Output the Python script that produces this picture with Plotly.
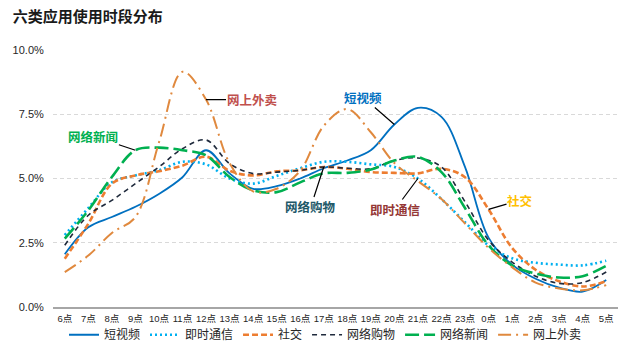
import plotly.graph_objects as go

hours = ["6点", "7点", "8点", "9点", "10点", "11点", "12点", "13点", "14点", "15点", "16点", "17点",
         "18点", "19点", "20点", "21点", "22点", "23点", "0点", "1点", "2点", "3点", "4点", "5点"]

short_video = [2.05, 3.1, 3.5, 3.9, 4.4, 5.05, 6.1, 5.2, 4.6, 4.7, 5.0, 5.4,
               5.7, 6.1, 7.1, 7.75, 7.4, 5.45, 2.7, 1.65, 1.1, 0.75, 0.6, 1.05]
instant_msg = [2.8, 3.85, 4.85, 5.12, 5.32, 5.65, 5.55, 5.0, 4.8, 5.1, 5.4, 5.65,
               5.65, 5.55, 5.45, 5.0, 4.2, 3.3, 2.4, 1.9, 1.72, 1.65, 1.62, 1.8]
social = [1.88, 3.24, 4.8, 5.12, 5.28, 5.5, 5.85, 5.3, 5.12, 5.28, 5.32, 5.45,
          5.38, 5.25, 5.22, 5.2, 5.38, 5.05, 3.8, 2.3, 1.45, 1.0, 0.8, 1.0]
shopping = [2.4, 3.57, 4.15, 4.8, 5.45, 6.16, 6.5, 5.58, 5.19, 5.25, 5.32, 5.45,
            5.4, 5.38, 5.7, 5.8, 5.45, 4.1, 2.6, 1.75, 1.2, 0.92, 0.95, 1.36]
news = [2.66, 3.76, 5.06, 6.1, 6.2, 6.1, 5.9, 5.06, 4.54, 4.47, 4.85, 5.2,
        5.22, 5.35, 5.7, 5.84, 5.25, 3.85, 2.4, 1.62, 1.3, 1.15, 1.2, 1.6]
takeout = [1.36, 2.0, 2.88, 3.5, 6.4, 9.15, 8.07, 5.6, 4.5, 4.6, 5.3, 7.05,
           7.7, 6.8, 5.6, 4.9, 4.2, 3.25, 2.3, 1.55, 0.95, 0.72, 0.65, 0.85]

y_ticks = [0, 2.5, 5, 7.5, 10]
y_tick_labels = ["0.0%", "2.5%", "5.0%", "7.5%", "10.0%"]

series = [
    ("短视频", short_video, "#0070C0", "solid", 1.8),
    ("即时通信", instant_msg, "#00B0F0", "2px,3px", 2.6),
    ("社交", social, "#ED7D31", "6px,3px", 2.6),
    ("网络购物", shopping, "#1F2A3C", "5px,4px", 1.6),
    ("网络新闻", news, "#00B050", "14px,5px", 2.6),
    ("网上外卖", takeout, "#E0893E", "13px,5px,2px,5px", 2.0),
]

fig = go.Figure()
for name, vals, color, dash, w in series:
    fig.add_trace(go.Scatter(
        x=hours, y=vals, name=name, mode="lines",
        line=dict(color=color, dash=dash, width=w, shape="spline", smoothing=1.0),
        hoverinfo="skip",
    ))

cjk = "Liberation Sans, Arial, Noto Sans CJK SC, sans-serif"

# labels with leader lines: (text, series values, index, color, ax, ay)
labels = [
    ("网上外卖", takeout, 6, "#C0504D", 46, 0),
    ("网络新闻", news, 3, "#00B050", -42, -14),
    ("短视频", short_video, 14, "#0070C0", -31, -27),
    ("网络购物", shopping, 11, "#215868", -13, 40),
    ("即时通信", instant_msg, 15, "#953735", -23, 31),
    ("社交", social, 18, "#FFC000", 31, -9),
]
for text, vals, idx, color, ax, ay in labels:
    fig.add_annotation(
        x=hours[idx], y=vals[idx], text="<b>" + text + "</b>",
        showarrow=True, arrowhead=0, arrowwidth=1.2, arrowcolor="#000000",
        ax=ax, ay=ay, font=dict(size=12.5, color=color, family="Noto Sans CJK SC, sans-serif"),
        standoff=0, borderpad=0,
    )

fig.update_layout(
    width=640, height=352,
    margin=dict(l=53, r=22, t=50, b=45, autoexpand=False),
    paper_bgcolor="white", plot_bgcolor="white",
    title=dict(text="<b>六类应用使用时段分布</b>", x=0.02, xanchor="left", y=0.952, yanchor="middle",
               font=dict(size=15, color="#1a1a1a", family="Noto Sans CJK SC, sans-serif")),
    showlegend=True,
    legend=dict(orientation="h", xref="container", x=0.1, xanchor="left",
                yref="container", y=0.049, yanchor="middle",
                font=dict(size=12, color="#262626", family="Noto Sans CJK SC, sans-serif"),
                itemwidth=30, tracegroupgap=0, bgcolor="rgba(0,0,0,0)"),
    font=dict(family=cjk, color="#262626"),
)

fig.update_xaxes(
    type="category", range=[-0.5, 23.5], showgrid=False,
    showline=True, linecolor="#A6A6A6", linewidth=2,
    ticks="outside", ticklen=2, tickcolor="rgba(0,0,0,0)",
    tickfont=dict(size=9.5, color="#262626", family=cjk), tickangle=0,
)
fig.update_yaxes(
    range=[0, 10], tickvals=y_ticks, ticktext=y_tick_labels,
    showgrid=True, gridcolor="#D9D9D9", griddash="4px,3px", gridwidth=1,
    zeroline=False, showline=False,
    ticks="outside", ticklen=6, tickcolor="rgba(0,0,0,0)",
    tickfont=dict(size=11, color="#262626", family=cjk),
)

fig.write_html("out.html")
